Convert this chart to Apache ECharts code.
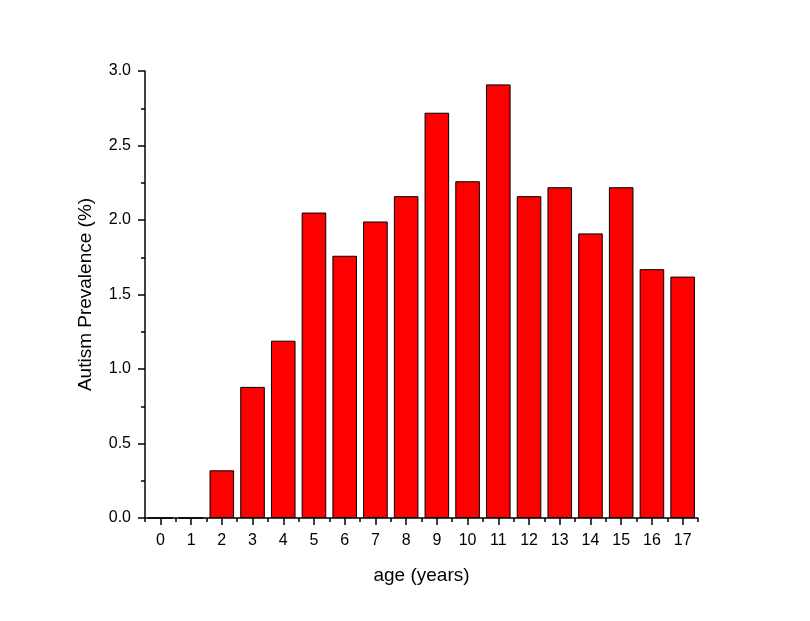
<!DOCTYPE html>
<html>
<head>
<meta charset="utf-8">
<script src="https://cdn.jsdelivr.net/npm/echarts@6/dist/echarts.min.js"></script>
<style>html,body{margin:0;padding:0;background:#fff;}#c{width:810px;height:621px;}</style>
</head>
<body>
<div id="c"></div>
<script>
const ages = ['0','1','2','3','4','5','6','7','8','9','10','11','12','13','14','15','16','17'];
const prevalence = [0, 0, 0.32, 0.88, 1.19, 2.05, 1.76, 1.99, 2.16, 2.72, 2.26, 2.91, 2.16, 2.22, 1.91, 2.22, 1.67, 1.62];
const yTicks = [0, 0.5, 1.0, 1.5, 2.0, 2.5, 3.0];

const chart = echarts.init(document.getElementById('c'));
const font = 'Liberation Sans, Arial, sans-serif';
chart.setOption({
  animation: false,
  grid: {left: 145, right: 112, top: 71, bottom: 103},
  xAxis: [{
    type: 'category',
    data: ages,
    name: 'age (years)',
    nameLocation: 'middle',
    nameGap: 48,
    nameTextStyle: {fontFamily: font, fontSize: 19, color: '#000'},
    axisLine: {show: true, lineStyle: {color: '#000', width: 1.5}},
    axisTick: {show: true, alignWithLabel: true, length: 7, lineStyle: {color: '#000', width: 1.5}},
    axisLabel: {show: true, interval: 0, fontFamily: font, fontSize: 16, color: '#000', margin: 15},
    splitLine: {show: false}
  }, {
    type: 'category',
    data: ages,
    position: 'bottom',
    axisLine: {show: false},
    axisTick: {show: true, interval: 0, alignWithLabel: false, length: 4, lineStyle: {color: '#000', width: 1.5}},
    axisLabel: {show: false},
    splitLine: {show: false}
  }],
  yAxis: {
    type: 'value',
    min: yTicks[0],
    max: yTicks[yTicks.length - 1],
    interval: 0.5,
    name: 'Autism Prevalence (%)',
    nameLocation: 'middle',
    nameGap: 50,
    nameTextStyle: {fontFamily: font, fontSize: 19, color: '#000'},
    axisLine: {show: true, lineStyle: {color: '#000', width: 1.5}},
    axisTick: {show: true, length: 7, lineStyle: {color: '#000', width: 1.5}},
    minorTick: {show: true, splitNumber: 2, length: 4, lineStyle: {color: '#000', width: 1.5}},
    axisLabel: {fontFamily: font, fontSize: 16, color: '#000', margin: 14, formatter: v => v.toFixed(1)},
    splitLine: {show: false}
  },
  series: [{
    type: 'bar',
    data: prevalence,
    barWidth: '80%',
    itemStyle: {color: '#FF0000', borderColor: '#000', borderWidth: 1}
  }]
});
</script>
</body>
</html>
